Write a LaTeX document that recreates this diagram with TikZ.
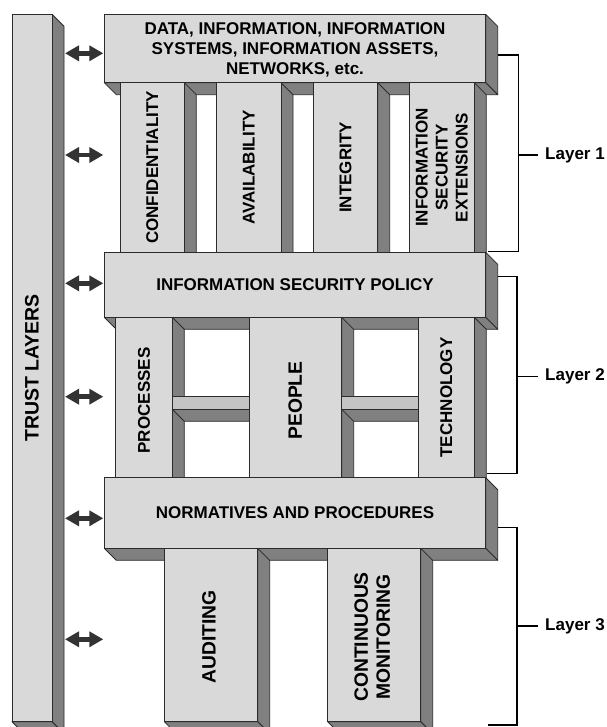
\documentclass[tikz,border=0pt]{standalone}
\usepackage{fontspec}
\setmainfont{Liberation Sans}
\usetikzlibrary{arrows.meta}
\definecolor{facec}{HTML}{D9D9D9}
\definecolor{sidec}{HTML}{808080}
\definecolor{beamc}{HTML}{C4C4C4}
\definecolor{edgec}{HTML}{2B2B2B}
\definecolor{arrc}{HTML}{333333}
% #1 name, #2 x1, #3 y1, #4 x2, #5 y2, #6 extra options for the front face
\newcommand{\blk}[6]{%
  \filldraw[sideface] (#4,#3) -- ++(12,12) -- ({#4+12},{#5+12}) -- (#4,#5) -- cycle;
  \filldraw[sideface] (#2,#5) -- (#4,#5) -- ++(12,12) -- ({#2+12},{#5+12}) -- cycle;
  \node[frontface, minimum width={(#4-#2)*1pt}, minimum height={(#5-#3)*1pt}, #6] (#1) at ({(#2+#4)/2},{(#3+#5)/2}) {};
}
\begin{document}
\begin{tikzpicture}[x=1pt,y=-1pt,
  sideface/.style={fill=sidec,draw=edgec,line width=0.8pt,line join=round},
  frontface/.style={fill=facec,draw=edgec,line width=0.8pt,inner sep=0pt,outer sep=0pt},
  lbl/.style={font=\fontsize{17}{20}\selectfont\bfseries,align=center,text=black,inner sep=0pt},
  vlbl/.style={lbl,rotate=90},
  biglbl/.style={vlbl,font=\fontsize{19.3}{22}\selectfont\bfseries},
  dbl/.style={draw=arrc,line width=4.5pt,{Triangle[length=14pt,width=15pt]}-{Triangle[length=14pt,width=15pt]}},
  brk/.style={draw=black,line width=1.3pt}]
\clip (0,0) rectangle (606,727);
\fill[white] (0,0) rectangle (606,727);

% trust bar
\blk{trust}{12}{14.3}{52}{721.7}{}
\node[vlbl,font=\fontsize{19.5}{22}\selectfont\bfseries] (trustt) at (trust.center) {TRUST LAYERS};

% top box
\blk{data}{104.3}{14.3}{485.7}{82.7}{}
\node[lbl] (datat) at ([yshift=-1pt]data.center) {DATA, INFORMATION, INFORMATION\\SYSTEMS, INFORMATION ASSETS,\\NETWORKS, etc.};

% layer 1 columns
\blk{conf}{120}{82.7}{184.3}{252.3}{}
\blk{avail}{216.7}{82.7}{281}{252.3}{}
\blk{integ}{313.3}{82.7}{377.7}{252.3}{}
\blk{ise}{409.3}{82.7}{474.3}{252.3}{}
\node[vlbl] (conft) at (conf.center) {CONFIDENTIALITY};
\node[vlbl] (availt) at (avail.center) {AVAILABILITY};
\node[vlbl] (integt) at (integ.center) {INTEGRITY};
\node[vlbl] (iset) at (ise.center) {INFORMATION\\SECURITY\\EXTENSIONS};

% policy
\blk{policy}{104.3}{252.3}{485.7}{317.3}{}
\node[lbl] (policyt) at (policy.center) {INFORMATION SECURITY POLICY};

% layer 2
\blk{proc}{115.7}{317.3}{172.3}{477.7}{}
\blk{beamA}{172.3}{396.7}{249}{409.3}{fill=beamc}
\blk{people}{249}{317.3}{341.7}{477.7}{}
\blk{beamB}{341.7}{396.7}{418.3}{409.3}{fill=beamc}
\blk{tech}{418.3}{317.3}{474.3}{477.7}{}
\node[vlbl] (proct) at ([yshift=-3pt]proc.center) {PROCESSES};
\node[biglbl] (peoplet) at ([yshift=-3pt]people.center) {PEOPLE};
\node[vlbl] (techt) at (tech.center) {TECHNOLOGY};

% normatives
\blk{norm}{104.3}{477.7}{485.7}{548.3}{}
\node[lbl] (normt) at (norm.center) {NORMATIVES AND PROCEDURES};

% layer 3
\blk{audit}{164.3}{548.3}{257.7}{721.7}{}
\blk{monit}{327.7}{548.3}{420.7}{721.7}{}
\node[biglbl] (auditt) at ([yshift=-2pt,xshift=-2pt]audit.center) {AUDITING};
\node[biglbl] (monitt) at ([yshift=-2pt,xshift=-2pt]monit.center) {CONTINUOUS\\MONITORING};

% arrows
\foreach \i/\yy in {1/53.3,2/155,3/283.3,4/396.7,5/518.3,6/639.3}{
  \coordinate (al\i) at (65,\yy);
  \coordinate (ar\i) at (103.3,\yy);
  \draw[dbl] (al\i) -- (ar\i);
}

% brackets
\coordinate (b1a) at (497.7,55);   \coordinate (b1b) at (488,251.7);
\coordinate (b2a) at (497.7,276.7); \coordinate (b2b) at (486.7,473.3);
\coordinate (b3a) at (497.7,527.3); \coordinate (b3b) at (488,725);
\draw[brk] (b1a) -- (518.5,55) -- (518.5,251.7) -- (b1b);
\draw[brk] (b2a) -- (517,276.7) -- (517,473.3) -- (b2b);
\draw[brk] (b3a) -- (517,527.3) -- (517,725) -- (b3b);
\node[lbl,anchor=west] (lay1) at (545,155) {Layer 1};
\node[lbl,anchor=west] (lay2) at (545,376.7) {Layer 2};
\node[lbl,anchor=west] (lay3) at (545,626) {Layer 3};
\draw[brk] (518.5,155) -- ([xshift=-7pt]lay1.west);
\draw[brk] (517,376.7) -- ([xshift=-7pt]lay2.west);
\draw[brk] (517,626) -- ([xshift=-7pt]lay3.west);
\end{tikzpicture}
\end{document}
